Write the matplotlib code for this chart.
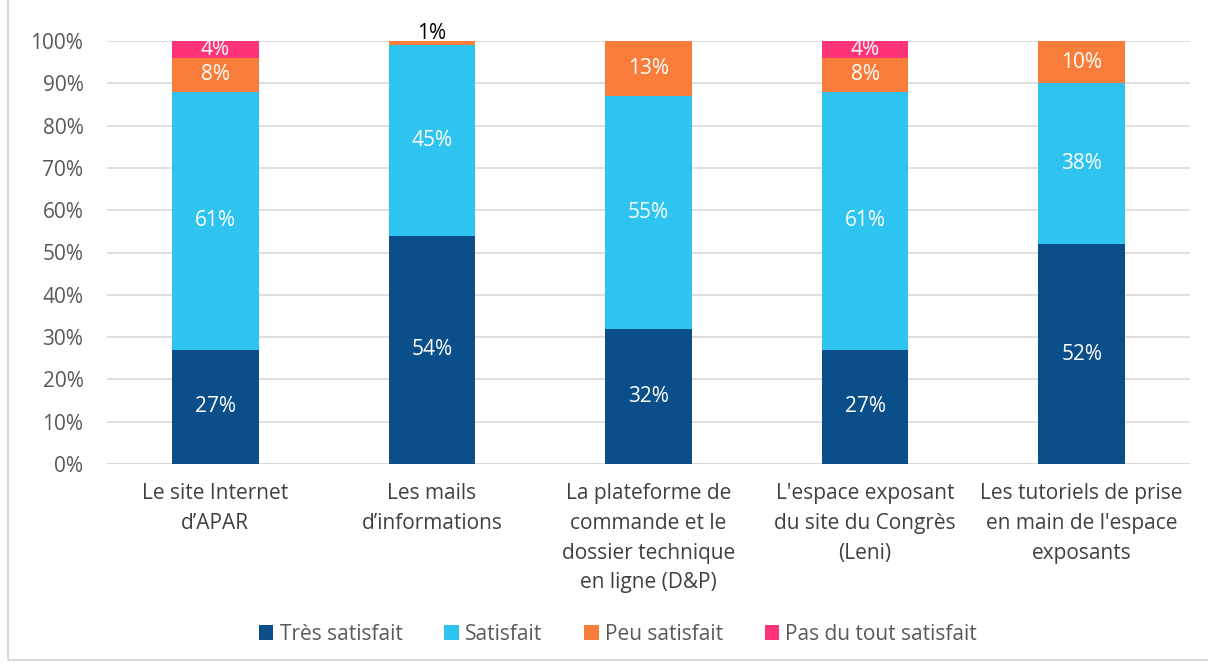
import numpy as np
import matplotlib.pyplot as plt
from matplotlib.patches import Rectangle

plt.rcParams['font.family'] = ['Open Sans', 'DejaVu Sans']

categories = ["Le site Internet\nd\u2019APAR", "Les mails\nd\u2019informations",
              "La plateforme de\ncommande et le\ndossier technique\nen ligne (D&P)",
              "L'espace exposant\ndu site du Congr\u00e8s\n(Leni)",
              "Les tutoriels de prise\nen main de l'espace\nexposants"]
series = ["Tr\u00e8s satisfait", "Satisfait", "Peu satisfait", "Pas du tout satisfait"]
tres = [27, 54, 32, 27, 52]
satisf = [61, 45, 55, 61, 38]
peu = [8, 1, 13, 8, 10]
pas = [4, 0, 0, 4, 0]
colors = ["#0B4F8A", "#2EC4EF", "#F97D3A", "#FF3377"]

FS = 15
W, H = 1208, 665
fig = plt.figure(figsize=(W / 100, H / 100), dpi=100)
ax = fig.add_axes([107 / W, 1 - 464 / H, (1190 - 107) / W, (464 - 41) / H])

x = np.arange(len(categories))
bottom = np.zeros(len(categories))
for name, vals, c in zip(series, [tres, satisf, peu, pas], colors):
    vals = np.array(vals, dtype=float)
    ax.bar(x, vals / 100, 0.40, bottom=bottom, color=c, label=name, zorder=3)
    for i, v in enumerate(vals):
        if v <= 0:
            continue
        if v < 2:
            ax.text(x[i], bottom[i] + v / 100 - 0.006, f"{int(v)}%", ha='center', va='bottom',
                    fontsize=FS, color='black')
        else:
            ax.text(x[i], bottom[i] + v / 200, f"{int(v)}%", ha='center', va='center',
                    fontsize=FS, color='white')
    bottom += vals / 100

ax.set_xlim(-0.5, len(categories) - 0.5)
ax.set_ylim(0, 1)
ax.set_yticks(np.arange(0, 1.01, 0.1))
ax.set_yticklabels([f"{int(round(t * 100))}%" for t in np.arange(0, 1.01, 0.1)],
                   fontsize=FS, color='#595959')
ax.tick_params(axis='y', length=0, pad=17)
ax.set_xticks([])
ax.grid(axis='y', color='#D9D9D9', linewidth=1.2, zorder=0)
ax.set_axisbelow(True)
for s in ax.spines.values():
    s.set_visible(False)
ax.axhline(0, color='#D9D9D9', linewidth=1.2, zorder=1)

for i, lab in enumerate(categories):
    ax.text(x[i], -0.045, lab, ha='center', va='top', fontsize=FS, color='#404040',
            linespacing=1.55, transform=ax.get_xaxis_transform())

leg = fig.legend(loc='center', bbox_to_anchor=(618 / W, 1 - 634 / H), ncol=4, frameon=False,
                 fontsize=FS, handlelength=0.7, handleheight=0.7, handletextpad=0.3,
                 columnspacing=2.0, labelcolor='#595959')

fig.patches.append(Rectangle((8 / W, 1 - 660 / H), 1.2, 1.2, transform=fig.transFigure,
                             fill=False, edgecolor='#D9D9D9', linewidth=1.5))

fig.savefig("out.png", dpi=100)
